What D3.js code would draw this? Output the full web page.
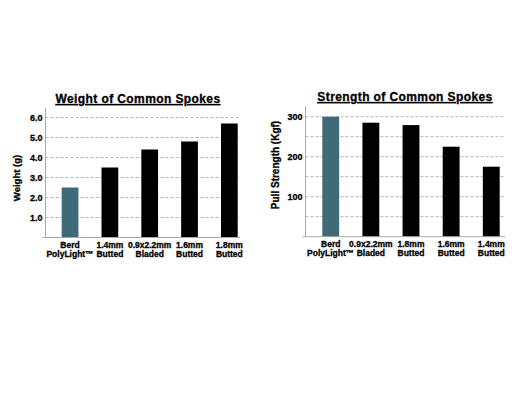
<!DOCTYPE html>
<html>
<head>
<meta charset="utf-8">
<script src="https://cdn.jsdelivr.net/npm/d3@7"></script>
<style>
  body { margin: 0; background: #fff; }
  text { font-family: "Liberation Sans", Arial, sans-serif; font-weight: bold; fill: #000; stroke: #000; stroke-width: 0.3; }
</style>
</head>
<body>
<div id="chart"></div>
<script>
// Weight chart data
const weightCats = ["Berd|PolyLight\u2122", "1.4mm|Butted", "0.9x2.2mm|Bladed", "1.6mm|Butted", "1.8mm|Butted"];
const weightVals = [2.5, 3.5, 4.4, 4.8, 5.7];
const weightTicks = [1, 2, 3, 4, 5, 6];

// Strength chart data
const strengthCats = ["Berd|PolyLight\u2122", "0.9x2.2mm|Bladed", "1.8mm|Butted", "1.6mm|Butted", "1.4mm|Butted"];
const strengthVals = [300, 285, 279, 225, 175];
const strengthTicks = [100, 200, 300];
const strengthGrid = [50, 100, 150, 200, 250, 300];

const teal = "#3f6b78";

const width = 525, height = 397;

const svg = d3.select("#chart")
    .append("svg")
    .attr("width", width)
    .attr("height", height);

function drawChart(opts) {
    const g = svg.append("g");

    const x = d3.scaleBand()
        .domain(opts.cats)
        .range([opts.x0, opts.x1])
        .paddingInner(0.58)
        .paddingOuter(0);

    const y = d3.scaleLinear()
        .domain(opts.domain)
        .range([opts.yBase, opts.yTop]);

    // dashed grid
    g.selectAll(".grid")
        .data(opts.grid)
        .join("line")
        .attr("x1", opts.axisX)
        .attr("x2", opts.gridEnd)
        .attr("y1", d => y(d))
        .attr("y2", d => y(d))
        .attr("stroke", "#b5b5b5")
        .attr("stroke-width", 1)
        .attr("stroke-dasharray", "3,2");

    // bars
    g.selectAll(".bar")
        .data(opts.vals)
        .join("rect")
        .attr("x", (d, i) => x(opts.cats[i]))
        .attr("width", x.bandwidth())
        .attr("y", d => y(d))
        .attr("height", d => y(0) - y(d))
        .attr("fill", (d, i) => i === 0 ? teal : "#000");

    // axes lines
    g.append("line")
        .attr("x1", opts.axisX).attr("x2", opts.axisX)
        .attr("y1", opts.axisTop).attr("y2", y(0))
        .attr("stroke", "#a8a8a8");
    g.append("line")
        .attr("x1", opts.axisX - 3).attr("x2", opts.gridEnd)
        .attr("y1", y(0)).attr("y2", y(0))
        .attr("stroke", "#a8a8a8");

    // y tick labels
    g.selectAll(".tick")
        .data(opts.ticks)
        .join("text")
        .attr("x", opts.axisX - 3)
        .attr("y", d => y(d) + 3)
        .attr("text-anchor", "end")
        .attr("font-size", 9)
        .text(d => opts.fmt(d));

    // category labels
    const lab = g.selectAll(".cat")
        .data(opts.cats)
        .join("text")
        .attr("text-anchor", "middle")
        .attr("font-size", 8.5)
        .attr("x", d => x(d) + x.bandwidth() / 2)
        .attr("y", y(0) + 10);
    lab.selectAll("tspan")
        .data(d => d.split("|"))
        .join("tspan")
        .attr("x", function () { return d3.select(this.parentNode).attr("x"); })
        .attr("dy", (d, i) => i === 0 ? 0 : 9)
        .text(d => d);

    // y title
    g.append("text")
        .attr("transform", `translate(${opts.titleX},${opts.titleY}) rotate(-90)`)
        .attr("text-anchor", "middle")
        .attr("font-size", opts.yLabelSize)
        .text(opts.yLabel);

    // chart title
    g.append("text")
        .attr("x", opts.headX)
        .attr("y", opts.headY)
        .attr("text-anchor", "middle")
        .attr("font-size", 12)
        .attr("text-decoration", "underline")
        .attr("letter-spacing", 0.4)
        .text(opts.title);
}

drawChart({
    cats: weightCats, vals: weightVals, ticks: weightTicks, grid: weightTicks,
    domain: [0, 6], fmt: d3.format(".1f"),
    x0: 61.7, x1: 237.7, yBase: 237.5, yTop: 117.5,
    axisX: 45.5, axisTop: 108, gridEnd: 240,
    yLabel: "Weight (g)", yLabelSize: 9.5, titleX: 20, titleY: 178,
    title: "Weight of Common Spokes", headX: 138, headY: 103
});

drawChart({
    cats: strengthCats, vals: strengthVals, ticks: strengthTicks, grid: strengthGrid,
    domain: [0, 300], fmt: d3.format("d"),
    x0: 322.3, x1: 499.7, yBase: 236.7, yTop: 116.7,
    axisX: 305.5, axisTop: 106, gridEnd: 505,
    yLabel: "Pull Strength (Kgf)", yLabelSize: 10, titleX: 279, titleY: 165,
    title: "Strength of Common Spokes", headX: 405, headY: 101
});
</script>
</body>
</html>
